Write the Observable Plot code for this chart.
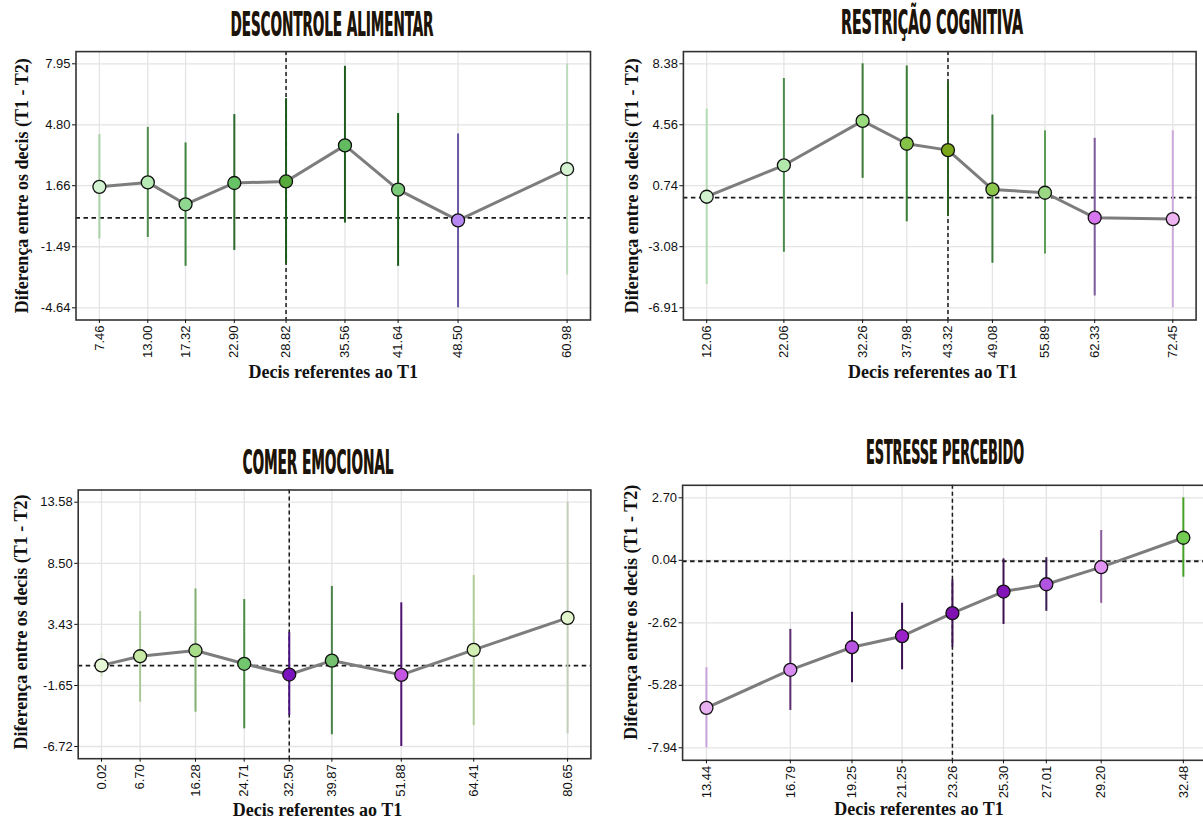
<!DOCTYPE html>
<html><head><meta charset="utf-8">
<script src="https://cdn.jsdelivr.net/npm/d3@7"></script>
<script src="https://cdn.jsdelivr.net/npm/@observablehq/plot@0.6"></script>
<style>
html,body{margin:0;padding:0;background:#fff;}
#root{position:relative;width:1203px;height:825px;overflow:hidden;background:#fff;}
.panel{position:absolute;}
.panel svg{display:block;}
.title{position:absolute;white-space:nowrap;font-family:"Liberation Sans Narrow","DejaVu Sans Condensed","Liberation Sans",sans-serif;font-weight:bold;font-size:33px;line-height:1;color:#1b140c;text-shadow:0.4px 0.4px 0 #8b6b3b;transform-origin:center center;}
</style></head><body><div id="root"></div>
<script>
// ---------- DATA ----------
// Panel 1: Descontrole alimentar
const dcX  = [7.46, 13.00, 17.32, 22.90, 28.82, 35.56, 41.64, 48.50, 60.98];
const dcY  = [1.60, 1.83, 0.70, 1.80, 1.88, 3.74, 1.46, -0.13, 2.52];
const dcLo = [-1.09, -1.01, -2.50, -1.68, -2.38, -0.27, -2.50, -4.64, -2.95];
const dcHi = [4.30, 4.67, 3.87, 5.33, 6.15, 7.82, 5.38, 4.33, 7.95];
const dcYTicks = [-4.64, -1.49, 1.66, 4.80, 7.95];
const dcRef = 28.82;

// Panel 2: Restrição cognitiva
const rcX  = [12.06, 22.06, 32.26, 37.98, 43.32, 49.08, 55.89, 62.33, 72.45];
const rcY  = [0.05, 2.02, 4.80, 3.37, 2.97, 0.51, 0.30, -1.26, -1.35];
const rcLo = [-5.44, -3.43, 1.20, -1.52, -1.16, -4.12, -3.54, -6.17, -6.91];
const rcHi = [5.54, 7.46, 8.38, 8.25, 7.25, 5.17, 4.18, 3.71, 4.18];
const rcYTicks = [-6.91, -3.08, 0.74, 4.56, 8.38];
const rcRef = 43.32;

// Panel 3: Comer emocional
const ceX  = [0.02, 6.70, 16.28, 24.71, 32.50, 39.87, 51.88, 64.41, 80.65];
const ceY  = [0.02, 0.78, 1.26, 0.15, -0.74, 0.42, -0.77, 1.31, 3.97];
const ceLo = [-0.96, -3.04, -3.87, -5.25, -4.15, -5.75, -6.72, -4.98, -5.67];
const ceHi = [0.98, 4.50, 6.38, 5.49, 2.73, 6.58, 5.22, 7.49, 13.58];
const ceYTicks = [-6.72, -1.65, 3.43, 8.50, 13.58];
const ceRef = 32.50;

// Panel 4: Estresse percebido
const epX  = [13.44, 16.79, 19.25, 21.25, 23.26, 25.30, 27.01, 29.20, 32.48];
const epY  = [-6.24, -4.62, -3.66, -3.19, -2.21, -1.29, -0.98, -0.25, 1.00];
const epLo = [-7.94, -6.35, -5.17, -4.62, -3.66, -2.69, -2.13, -1.79, -0.68];
const epHi = [-4.53, -2.90, -2.17, -1.79, -0.79, 0.10, 0.15, 1.31, 2.70];
const epYTicks = [-7.94, -5.28, -2.62, 0.04, 2.70];
const epRef = 23.26;

const titles = ["DESCONTROLE ALIMENTAR", "RESTRIÇÃO COGNITIVA", "COMER EMOCIONAL", "ESTRESSE PERCEBIDO"];
const xTitle = "Decis referentes ao T1";
const yTitle = "Diferença entre os decis (T1 - T2)";

// ---------- STYLES (colours per point) ----------
const dcFill = ["#d3f3d0","#b7e9b5","#8fd88f","#68c266","#58aa3c","#63bb61","#79c978","#b688f2","#d5f3d3"];
const dcCi   = ["#a9d2a6","#4f8d4d","#3f843f","#2b6a2b","#1b5a1b","#1f5d1f","#1c5b1c","#6c58a2","#bcdcbc"];
const rcFill = ["#d2f2cf","#b3e8ad","#98dc7e","#84c248","#7aa81a","#8cc64c","#9ad884","#d676f0","#eeb4f2"];
const rcCi   = ["#b5dbb2","#4a8c4a","#3b7b34","#3b7b34","#2a5c20","#3a7a3a","#5d9d5a","#7c5a9c","#cbaadb"];
const ceFill = ["#e6f7d6","#c6eaa6","#a9dc88","#72c66e","#7a12be","#74c270","#c456e2","#d3eeb2","#e2f5cc"];
const ceCi   = ["#d2e4c8","#a9c899","#82b272","#4d8d4a","#4a1282","#4b824a","#521272","#b1cd99","#c2cfb9"];
const epFill = ["#e8b2f2","#d88cf0","#b954e2","#9a22c8","#8012b2","#8214b8","#b254e2","#e294f2","#72cc52"];
const epCi   = ["#caa2da","#5c2c6c","#3c1252","#3c1252","#3c1252","#3c1252","#3c1c52","#8c5c9c","#42a222"];

const root = document.getElementById("root");
const f2 = d => d.toFixed(2);

function panel(cfg) {
  const rows = cfg.x.map((x, i) => ({x, y: cfg.y[i], lo: cfg.lo[i], hi: cfg.hi[i], fill: cfg.fill[i], ci: cfg.ci[i]}));
  const xr = d3.extent(cfg.x), yr = d3.extent(cfg.yTicks);
  const xp = (xr[1] - xr[0]) * 0.05, yp = (yr[1] - yr[0]) * 0.05;
  const svg = Plot.plot({
    width: cfg.w, height: cfg.h,
    marginLeft: cfg.m[0], marginRight: cfg.m[1], marginTop: cfg.m[2], marginBottom: cfg.m[3],
    style: {fontFamily: "'Liberation Sans', Arial, sans-serif", fontSize: "13px", color: "#111", background: "transparent", overflow: "visible"},
    x: {domain: [xr[0] - xp, xr[1] + xp]},
    y: {domain: [yr[0] - yp, yr[1] + yp]},
    color: {type: "identity"},
    marks: [
      Plot.gridX(cfg.x, {stroke: "#e4e4e4", strokeOpacity: 1, strokeWidth: 1.3}),
      Plot.gridY(cfg.yTicks, {stroke: "#e4e4e4", strokeOpacity: 1, strokeWidth: 1.3}),
      Plot.ruleY([0], {stroke: "#1a1a1a", strokeWidth: 1.8, strokeDasharray: "4.5,3.5"}),
      Plot.ruleX([cfg.ref], {stroke: "#1a1a1a", strokeWidth: 1.5, strokeDasharray: "4,3"}),
      Plot.ruleX(rows, {x: "x", y1: "lo", y2: "hi", stroke: "ci", strokeWidth: 2}),
      Plot.line(rows, {x: "x", y: "y", stroke: "#7d7d7d", strokeWidth: 3}),
      Plot.dot(rows, {x: "x", y: "y", r: 6.5, fill: "fill", stroke: "#111", strokeWidth: 1.3}),
      Plot.frame({stroke: "#333", strokeWidth: 1.6}),
      Plot.axisX({ticks: cfg.x, tickFormat: f2, tickRotate: -90, tickSize: 3.5, tickPadding: 2, label: null, fontSize: 13, color: "#111"}),
      Plot.axisY({ticks: cfg.yTicks, tickFormat: f2, tickSize: 3.5, tickPadding: 2, label: null, fontSize: 13, color: "#111"}),
      Plot.text([xTitle], {text: d => d, frameAnchor: "bottom", textAnchor: "middle", dx: cfg.xt[0], dy: cfg.xt[1], fontFamily: "'Liberation Serif', 'Times New Roman', serif", fontWeight: "bold", fontSize: 18, fill: "#111"}),
      Plot.text([yTitle], {text: d => d, frameAnchor: "left", textAnchor: "middle", rotate: -90, dx: cfg.yt[0], dy: cfg.yt[1], fontFamily: "'Liberation Serif', 'Times New Roman', serif", fontWeight: "bold", fontSize: 18, fill: "#111"})
    ]
  });
  const div = document.createElement("div");
  div.className = "panel";
  div.style.left = cfg.left + "px";
  div.style.top = cfg.top + "px";
  div.style.width = cfg.w + "px";
  div.style.height = cfg.h + "px";
  div.appendChild(svg);
  root.appendChild(div);

  const t = document.createElement("div");
  t.className = "title";
  t.textContent = cfg.title;
  root.appendChild(t);
  const wNat = t.getBoundingClientRect().width;
  t.style.left = cfg.tt[0] + "px";
  t.style.top = (cfg.tt[1] - 4) + "px";
  t.style.transform = `translateX(-50%) scaleX(${cfg.tt[2] / wNat})`;
}

panel({x: dcX, y: dcY, lo: dcLo, hi: dcHi, yTicks: dcYTicks, ref: dcRef, fill: dcFill, ci: dcCi,
  left: 0, top: 0, w: 600, h: 400, m: [75.5, 10, 51.1, 80.5], xt: [0, 58], yt: [-54, 0],
  title: titles[0], tt: [332, 12, 203]});
panel({x: rcX, y: rcY, lo: rcLo, hi: rcHi, yTicks: rcYTicks, ref: rcRef, fill: rcFill, ci: rcCi,
  left: 600, top: 0, w: 603, h: 400, m: [82.9, 7.4, 51.1, 80.5], xt: [-7, 57.5], yt: [-51, 0],
  title: titles[1], tt: [932, 10, 182]});
panel({x: ceX, y: ceY, lo: ceLo, hi: ceHi, yTicks: ceYTicks, ref: ceRef, fill: ceFill, ci: ceCi,
  left: 0, top: 420, w: 600, h: 405, m: [77.7, 9.6, 69.5, 66.8], xt: [-17, 57], yt: [-57, -2.4],
  title: titles[2], tt: [318, 450, 151]});
panel({x: epX, y: epY, lo: epLo, hi: epHi, yTicks: epYTicks, ref: epRef, fill: epFill, ci: epCi,
  left: 600, top: 420, w: 620, h: 405, m: [82.1, 13.3, 64.8, 65.2], xt: [-26, 55], yt: [-51, -10.6],
  title: titles[3], tt: [945, 440, 158]});
</script>
</body></html>
